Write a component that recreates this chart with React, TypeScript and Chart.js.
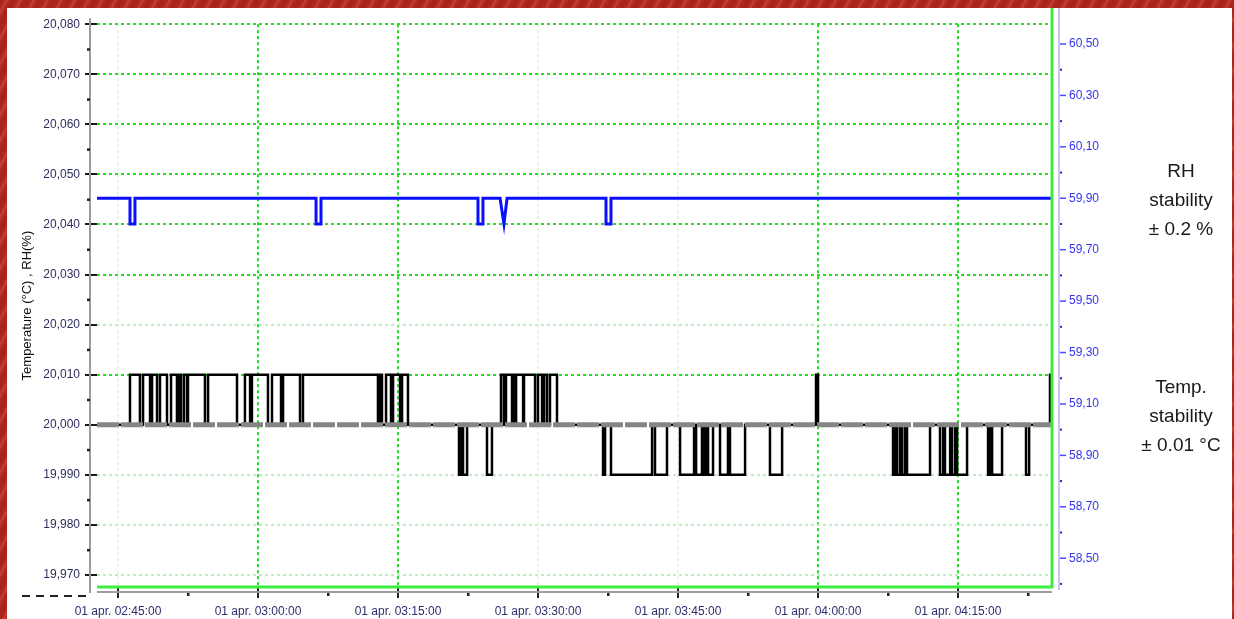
import React, { useEffect, useRef } from "react";
import { Chart, registerables } from "chart.js";

Chart.register(...registerables);
Chart.defaults.font.family = "'Liberation Sans', Arial, sans-serif";

// ---------- data ----------
const DATE_PREFIX = "01 apr.";
const X_RANGE = ["02:42:45", "04:25:04"];
const X_TICKS = ["02:45:00", "03:00:00", "03:15:00", "03:30:00", "03:45:00", "04:00:00", "04:15:00"];
const X_BRIGHT = ["03:00:00", "03:15:00", "04:00:00", "04:15:00"];

const TEMP_RANGE = [19.9676, 20.08];
const TEMP_TICKS = [19.97, 19.98, 19.99, 20.0, 20.01, 20.02, 20.03, 20.04, 20.05, 20.06, 20.07, 20.08];
const TEMP_BRIGHT = [20.01, 20.03, 20.04, 20.05, 20.06, 20.07, 20.08];

const RH_RANGE = [58.388, 60.577];
const RH_TICKS = [58.5, 58.7, 58.9, 59.1, 59.3, 59.5, 59.7, 59.9, 60.1, 60.3, 60.5];

const TEMP_SETPOINT = 20.0;

// temperature logger trace: [time, value from that time on]
const TEMP_STEPS: [string, number][] = [
  ["02:42:45", 20.0], ["02:46:17", 20.01], ["02:47:21", 20.0], ["02:47:41", 20.01],
  ["02:48:26", 20.0], ["02:48:39", 20.01], ["02:49:11", 20.0], ["02:49:30", 20.01],
  ["02:50:15", 20.0], ["02:50:41", 20.01], ["02:51:19", 20.0], ["02:51:32", 20.01],
  ["02:51:45", 20.0], ["02:52:04", 20.01], ["02:52:24", 20.0], ["02:52:30", 20.01],
  ["02:54:19", 20.0], ["02:54:39", 20.01], ["02:57:45", 20.0], ["02:58:36", 20.01],
  ["02:59:09", 20.0], ["02:59:21", 20.01], ["03:01:04", 20.0], ["03:01:30", 20.01],
  ["03:02:28", 20.0], ["03:02:41", 20.01], ["03:04:30", 20.0], ["03:04:49", 20.01],
  ["03:12:51", 20.0], ["03:13:04", 20.01], ["03:13:17", 20.0], ["03:13:43", 20.01],
  ["03:14:15", 20.0], ["03:14:28", 20.01], ["03:15:13", 20.0], ["03:15:26", 20.01],
  ["03:16:04", 20.0], ["03:21:32", 19.99], ["03:21:45", 20.0], ["03:21:58", 19.99],
  ["03:22:24", 20.0], ["03:24:32", 19.99], ["03:25:04", 20.0], ["03:26:02", 20.01],
  ["03:26:21", 20.0], ["03:26:34", 20.01], ["03:27:13", 20.0], ["03:27:26", 20.01],
  ["03:27:32", 20.0], ["03:27:39", 20.01], ["03:28:24", 20.0], ["03:28:30", 20.01],
  ["03:29:41", 20.0], ["03:30:00", 20.01], ["03:30:26", 20.0], ["03:30:39", 20.01],
  ["03:30:58", 20.0], ["03:31:17", 20.01], ["03:32:02", 20.0], ["03:36:58", 19.99],
  ["03:37:11", 20.0], ["03:37:49", 19.99], ["03:42:13", 20.0], ["03:42:32", 19.99],
  ["03:43:49", 20.0], ["03:45:13", 19.99], ["03:46:43", 20.0], ["03:46:56", 19.99],
  ["03:47:34", 20.0], ["03:47:47", 19.99], ["03:48:00", 20.0], ["03:48:13", 19.99],
  ["03:48:45", 20.0], ["03:49:30", 19.99], ["03:50:21", 20.0], ["03:50:34", 19.99],
  ["03:52:11", 20.0], ["03:54:51", 19.99], ["03:56:09", 20.0], ["03:59:47", 20.01],
  ["04:00:00", 20.0], ["04:08:02", 19.99], ["04:08:15", 20.0], ["04:08:28", 19.99],
  ["04:08:47", 20.0], ["04:09:00", 19.99], ["04:09:19", 20.0], ["04:09:32", 19.99],
  ["04:12:00", 20.0], ["04:13:04", 19.99], ["04:13:24", 20.0], ["04:13:36", 19.99],
  ["04:14:09", 20.0], ["04:14:21", 19.99], ["04:14:41", 20.0], ["04:14:54", 19.99],
  ["04:15:58", 20.0], ["04:18:13", 19.99], ["04:18:26", 20.0], ["04:18:39", 19.99],
  ["04:19:43", 20.0], ["04:22:17", 19.99], ["04:22:37", 20.0], ["04:24:51", 20.01],
  ["04:25:04", 20.01],
];

// relative humidity trace (right axis)
const RH_POINTS: [string, number][] = [
  ["02:42:45", 59.9], ["02:46:17", 59.9], ["02:46:17", 59.8], ["02:46:49", 59.8], ["02:46:49", 59.9],
  ["03:06:13", 59.9], ["03:06:13", 59.8], ["03:06:45", 59.8], ["03:06:45", 59.9],
  ["03:23:34", 59.9], ["03:23:34", 59.8], ["03:24:06", 59.8], ["03:24:06", 59.9],
  ["03:25:56", 59.9], ["03:26:21", 59.8], ["03:26:41", 59.9],
  ["03:37:17", 59.9], ["03:37:17", 59.8], ["03:37:49", 59.8], ["03:37:49", 59.9],
  ["04:25:04", 59.9],
];

// ---------- helpers ----------
const toMin = (s: string) => {
  const [h, m, sec] = s.split(":").map(Number);
  return h * 60 + m + sec / 60;
};
const pad = (n: number) => String(n).padStart(2, "0");
const fmtTime = (v: number) => {
  const t = Math.round(v * 60);
  return `${pad(Math.floor(t / 3600))}:${pad(Math.floor((t % 3600) / 60))}:${pad(t % 60)}`;
};
const withMinors = (majors: number[], min: number, max: number) => {
  const out = [...majors];
  for (let i = 0; i < majors.length - 1; i++) out.push((majors[i] + majors[i + 1]) / 2);
  const step = majors[1] - majors[0];
  if (majors[0] - step / 2 >= min) out.push(majors[0] - step / 2);
  const last = majors[majors.length - 1];
  if (last + step / 2 <= max) out.push(last + step / 2);
  return out.sort((a, b) => a - b);
};

const xMin = toMin(X_RANGE[0]);
const xMax = toMin(X_RANGE[1]);
const xMajors = X_TICKS.map(toMin);
const xMajorKeys = new Set(xMajors.map((v) => Math.round(v * 60)));
const xBrightKeys = new Set(X_BRIGHT.map((s) => Math.round(toMin(s) * 60)));
const tMajorKeys = new Set(TEMP_TICKS.map((v) => Math.round(v * 1000)));
const tBrightKeys = new Set(TEMP_BRIGHT.map((v) => Math.round(v * 1000)));
const rMajorKeys = new Set(RH_TICKS.map((v) => Math.round(v * 100)));

const isMajorX = (v: number) => xMajorKeys.has(Math.round(v * 60));
const isMajorT = (v: number) => tMajorKeys.has(Math.round(v * 1000));
const isMajorR = (v: number) => rMajorKeys.has(Math.round(v * 100));

const GREEN = "#1fe01f";
const GREEN_FAINT = "#bdf0bd";
const GREEN_VFAINT = "#e2f7e2";
const NONE = "rgba(0,0,0,0)";

const decor = {
  id: "decor",
  afterDatasetsDraw(chart: any) {
    const { ctx, chartArea } = chart;
    const { left, right, top, bottom } = chartArea;
    const { x, y, y2 } = chart.scales;
    ctx.save();
    // gray left axis line
    ctx.strokeStyle = "#9d9d9d";
    ctx.lineWidth = 2;
    ctx.beginPath();
    ctx.moveTo(left - 7, top - 6);
    ctx.lineTo(left - 7, bottom + 6);
    ctx.stroke();
    // gray x-axis line
    ctx.beginPath();
    ctx.moveTo(left, bottom + 5);
    ctx.lineTo(right, bottom + 5);
    ctx.stroke();
    // black dashes bottom-left
    ctx.strokeStyle = "#222";
    ctx.setLineDash([8, 6]);
    ctx.beginPath();
    ctx.moveTo(22, bottom + 9);
    ctx.lineTo(left - 5, bottom + 9);
    ctx.stroke();
    ctx.setLineDash([]);
    // minor tick dots, left axis
    ctx.fillStyle = "#222";
    for (const t of y.ticks) {
      if (isMajorT(t.value)) continue;
      const p = y.getPixelForValue(t.value);
      ctx.fillRect(left - 10, p - 1, 3, 2.5);
    }
    // minor tick dots, x axis
    for (const t of x.ticks) {
      if (isMajorX(t.value)) continue;
      const p = x.getPixelForValue(t.value);
      ctx.fillRect(p - 1, bottom + 6, 2.5, 3);
    }
    // green frame lines
    ctx.strokeStyle = "#3ded3d";
    ctx.lineWidth = 3;
    ctx.beginPath();
    ctx.moveTo(left, bottom);
    ctx.lineTo(right, bottom);
    ctx.moveTo(right, 8);
    ctx.lineTo(right, bottom + 1.5);
    ctx.stroke();
    // right axis line
    ctx.strokeStyle = "#c6c6ff";
    ctx.lineWidth = 2;
    ctx.beginPath();
    ctx.moveTo(right + 7, 8);
    ctx.lineTo(right + 7, bottom + 3);
    ctx.stroke();
    // right axis tick marks
    for (const t of y2.ticks) {
      const p = y2.getPixelForValue(t.value);
      if (isMajorR(t.value)) {
        ctx.strokeStyle = "#4a4aff";
        ctx.lineWidth = 1.5;
        ctx.beginPath();
        ctx.moveTo(right + 8, p);
        ctx.lineTo(right + 14, p);
        ctx.stroke();
      } else {
        ctx.fillStyle = "#2a2ab0";
        ctx.fillRect(right + 8, p - 1, 2, 2);
      }
    }
    ctx.restore();
  },
};

export default function App() {
  const ref = useRef<HTMLCanvasElement>(null);

  useEffect(() => {
    const canvas = ref.current!;
    const xTickVals = withMinors(xMajors, xMin, xMax);
    const tTickVals = withMinors(TEMP_TICKS, TEMP_RANGE[0], TEMP_RANGE[1]);
    const rTickVals = withMinors(RH_TICKS, RH_RANGE[0], RH_RANGE[1]);

    const chart = new Chart(canvas, {
      type: "line",
      data: {
        datasets: [
          {
            label: "Setpoint",
            data: [
              { x: xMin, y: TEMP_SETPOINT },
              { x: xMax, y: TEMP_SETPOINT },
            ],
            yAxisID: "y",
            borderColor: "#858585",
            borderWidth: 5,
            borderDash: [22, 2],
            pointRadius: 0,
            order: 0,
          },
          {
            label: "Temperature",
            data: TEMP_STEPS.map(([t, v]) => ({ x: toMin(t), y: v })),
            yAxisID: "y",
            borderColor: "#000000",
            borderWidth: 2.5,
            stepped: "before",
            pointRadius: 0,
            order: 1,
          },
          {
            label: "RH",
            data: RH_POINTS.map(([t, v]) => ({ x: toMin(t), y: v })),
            yAxisID: "y2",
            borderColor: "#0a10ff",
            borderWidth: 3,
            pointRadius: 0,
            tension: 0,
            order: 2,
          },
        ],
      },
      options: {
        animation: false,
        responsive: false,
        maintainAspectRatio: false,
        events: [],
        layout: { padding: { top: 18, left: 0, right: 0, bottom: 0 } },
        plugins: { legend: { display: false }, tooltip: { enabled: false } },
        scales: {
          x: {
            type: "linear",
            min: xMin,
            max: xMax,
            afterFit: (s: any) => {
              s.height = 32;
            },
            afterBuildTicks: (s: any) => {
              s.ticks = xTickVals.map((value) => ({ value }));
            },
            border: { display: false, dash: [3, 3] },
            grid: {
              color: (c: any) => {
                const v = c.tick?.value;
                if (v === undefined || !isMajorX(v)) return NONE;
                return xBrightKeys.has(Math.round(v * 60)) ? GREEN : GREEN_VFAINT;
              },
              lineWidth: 2,
              tickLength: 11,
              tickColor: (c: any) => (c.tick && isMajorX(c.tick.value) ? "#222" : NONE),
              tickWidth: 2,
            },
            ticks: {
              autoSkip: false,
              maxRotation: 0,
              minRotation: 0,
              padding: 6,
              color: "#2e2e6e",
              font: { size: 12 },
              callback: (v: any) => (isMajorX(Number(v)) ? `${DATE_PREFIX} ${fmtTime(Number(v))}` : ""),
            },
          },
          y: {
            position: "left",
            min: TEMP_RANGE[0],
            max: TEMP_RANGE[1],
            afterFit: (s: any) => {
              s.width = 97;
            },
            afterBuildTicks: (s: any) => {
              s.ticks = tTickVals.map((value) => ({ value }));
            },
            border: { display: false, dash: [3, 3] },
            grid: {
              color: (c: any) => {
                const v = c.tick?.value;
                if (v === undefined || !isMajorT(v)) return NONE;
                return tBrightKeys.has(Math.round(v * 1000)) ? GREEN : GREEN_FAINT;
              },
              lineWidth: 2,
              tickLength: 12,
              tickColor: (c: any) => (c.tick && isMajorT(c.tick.value) ? "#1a1a1a" : NONE),
              tickWidth: 2,
            },
            ticks: {
              autoSkip: false,
              padding: 5,
              color: "#2e2e5e",
              font: { size: 12 },
              callback: (v: any) => (isMajorT(Number(v)) ? Number(v).toFixed(3).replace(".", ",") : ""),
            },
            title: {
              display: true,
              text: "Temperature (°C) , RH(%)",
              color: "#111",
              font: { size: 13 },
              padding: { top: 20, bottom: 0 },
            },
          },
          y2: {
            position: "right",
            min: RH_RANGE[0],
            max: RH_RANGE[1],
            afterFit: (s: any) => {
              s.width = 182;
            },
            afterBuildTicks: (s: any) => {
              s.ticks = rTickVals.map((value) => ({ value }));
            },
            border: { display: false },
            grid: { drawOnChartArea: false, drawTicks: false },
            ticks: {
              autoSkip: false,
              padding: 17,
              color: "#3434f0",
              font: { size: 12 },
              callback: (v: any) => (isMajorR(Number(v)) ? Number(v).toFixed(2).replace(".", ",") : ""),
            },
          },
        },
      },
      plugins: [decor],
    } as any);

    return () => chart.destroy();
  }, []);

  const noteStyle: React.CSSProperties = {
    position: "absolute",
    left: 1128,
    width: 106,
    textAlign: "center",
    fontFamily: "'Liberation Sans', Arial, sans-serif",
    fontSize: 19,
    lineHeight: "29px",
    color: "#1a1a1a",
  };

  return (
    <div
      style={{
        position: "fixed",
        left: 0,
        top: 0,
        width: 1234,
        height: 619,
        overflow: "hidden",
        background:
          "repeating-linear-gradient(118deg, #a62219 0px, #b3281e 4px, #c54136 6px, #b02a20 8px, #a62219 12px)",
      }}
    >
      <div style={{ position: "absolute", left: 7, top: 8, width: 1225, height: 611, background: "#ffffff" }} />
      <canvas ref={ref} width={1234} height={619} style={{ position: "absolute", left: 0, top: 0 }} />
      <div style={{ ...noteStyle, top: 156 }}>
        RH
        <br />
        stability
        <br />± 0.2 %
      </div>
      <div style={{ ...noteStyle, top: 372 }}>
        Temp.
        <br />
        stability
        <br />± 0.01 °C
      </div>
    </div>
  );
}
